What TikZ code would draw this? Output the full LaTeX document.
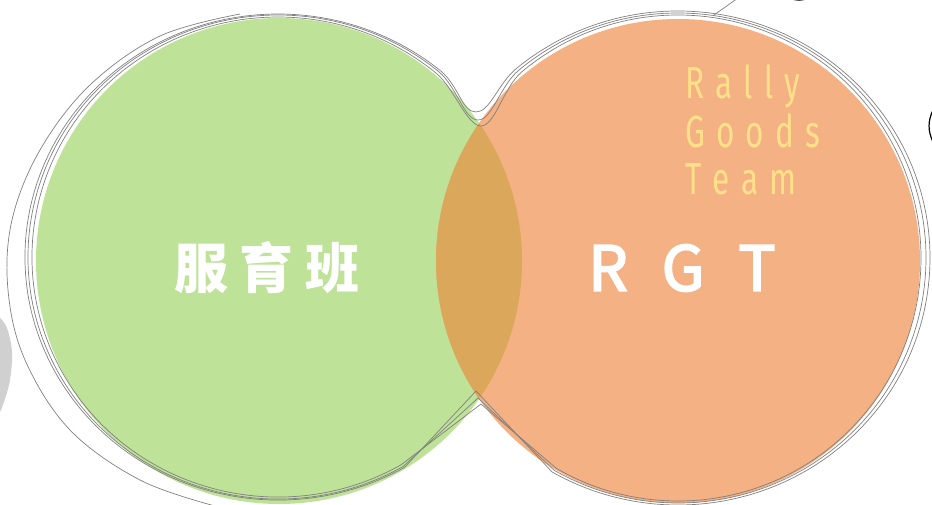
\documentclass[tikz,border=0pt]{standalone}
\usepackage{fontspec}
\usetikzlibrary{calc}
\newfontfamily\cjk{Noto Sans CJK SC}
\newfontfamily\cjkmed[FakeBold=3]{Noto Sans CJK SC}
\newfontfamily\fira{Fira Sans}
\definecolor{gfill}{HTML}{BFE299}
\definecolor{ofill}{HTML}{F3B184}
\definecolor{lfill}{HTML}{DAA75B}
\definecolor{skc}{HTML}{808080}
\definecolor{yel}{HTML}{FFE08A}
\definecolor{blob}{HTML}{D1D0D1}
\tikzset{
  sk/.style={draw=skc, line width=0.7pt, line join=round},
  bigtext/.style={text=white, inner sep=0pt},
  smalltext/.style={text=yel, inner sep=0pt, anchor=base west, font=\fira\fontsize{45}{45}\selectfont}
}
% #1 shift x, #2 shift y, #3 green x radius, #4 green y radius, #5 orange x radius, #6 orange y radius, #7 neck y, #8 V y
\newcommand\peanutline[8]{%
  \begin{scope}[shift={(#1,#2)}]
  \draw[sk] ($(gc)+(-60:#3 and #4)$)
     arc[start angle=-60, end angle=-310, x radius=#3, y radius=#4]
     .. controls +(-40:24pt) and +(-14,0) .. (478,#7)
     .. controls +(14,0) and +(-140:24pt) .. ($(oc)+(130:#5 and #6)$)
     arc[start angle=130, end angle=-120, x radius=#5, y radius=#6]
     -- (478,#8) -- cycle;
  \end{scope}}
\begin{document}
\begin{tikzpicture}[x=1pt,y=-1pt]
\useasboundingbox (0,0) rectangle (932,504);
% left grey blob
\fill[blob] plot[smooth,tension=0.6] coordinates {(0,318) (7,328) (12,352) (10,380) (4,402) (0,412)} -- cycle;
% circles
\coordinate (gf) at (279,261);
\coordinate (of) at (678,261);
\fill[gfill] (gf) circle[radius=243pt];
\fill[ofill] (of) circle[radius=242pt];
\begin{scope}
  \clip (gf) circle[radius=243pt];
  \fill[lfill] (of) circle[radius=242pt];
\end{scope}
% sketchy outline
\coordinate (gc) at (278,257);
\coordinate (oc) at (678,258);
\peanutline{0}{0}{250pt}{242pt}{248pt}{245pt}{120}{398}
\peanutline{-2}{-3}{253pt}{243pt}{252pt}{247pt}{115}{394}
\peanutline{3}{2}{246pt}{240pt}{243pt}{243pt}{124}{402}
\draw[sk] plot[smooth,tension=0.6] coordinates {(240,14) (160,36) (90,85) (40,150) (12,220) (8,290) (25,360) (70,430) (140,480) (215,506)};
% fragments at edges
\draw[sk] (714,15) -- (738,-2);
\draw[draw=skc!60!black, line width=1pt] (792,-1) to[bend right=20] (806,-1);
\draw[black, line width=1.2pt] (933,110) to[bend right=25] (933,142);
% texts
\node[bigtext, font=\cjk\bfseries\fontsize{54}{54}\selectfont] (fyb) at (267,268) {服\kern12pt 育\kern12pt 班};
\node[bigtext, font=\cjkmed\fontsize{62}{62}\selectfont] (rgt) at (682,268) {R\kern34pt G\kern34pt T};
\node[smalltext] (l1) at (685,98) {\scalebox{0.7}[1]{R\kern16pt a\kern16pt l\kern16pt l\kern16pt y}};
\node[smalltext] (l2) at (685,147) {\scalebox{0.7}[1]{G\kern16pt o\kern16pt o\kern16pt d\kern16pt s}};
\node[smalltext] (l3) at (685,194) {\scalebox{0.7}[1]{T\kern16pt e\kern16pt a\kern16pt m}};
\end{tikzpicture}
\end{document}
